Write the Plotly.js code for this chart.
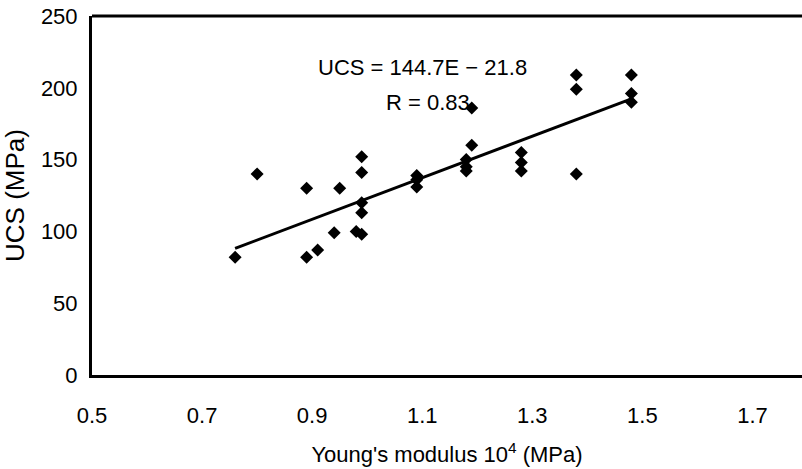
<!DOCTYPE html>
<html>
<head>
<meta charset="utf-8">
<script src="https://cdn.plot.ly/plotly-3.0.1.min.js"></script>
<style>html,body{margin:0;padding:0;background:#fff;}#chart{width:802px;height:469px;}</style>
</head>
<body>
<div id="chart"></div>
<script>
// Young's modulus (x 10^4 MPa) and UCS (MPa)
const modulusE = [0.76, 0.80, 0.89, 0.89, 0.91, 0.94, 0.95, 0.98, 0.99, 0.99, 0.99, 0.99, 0.99,
                  1.09, 1.09, 1.09, 1.18, 1.18, 1.18, 1.19, 1.19, 1.28, 1.28, 1.28,
                  1.38, 1.38, 1.38, 1.48, 1.48, 1.48];
const ucsValues = [82, 140, 130, 82, 87, 99, 130, 100, 152, 141, 120, 113, 98,
                   139, 136, 131, 150, 145, 142, 186, 160, 155, 148, 142,
                   209, 199, 140, 209, 196, 190];
// regression shown in the figure: UCS = 144.7E - 21.8
const fitSlope = 144.7;
const fitIntercept = -21.8;
const fitRange = [0.76, 1.48];
const xTicks = [0.5, 0.7, 0.9, 1.1, 1.3, 1.5, 1.7];
const xTickText = ["0.5", "0.7", "0.9", "1.1", "1.3", "1.5", "1.7"];
const yTicks = [0, 50, 100, 150, 200, 250];

const fitY = fitRange.map(e => fitSlope * e + fitIntercept);

const fontFam = "Liberation Sans, Arial, sans-serif";

const data = [
  {
    x: modulusE, y: ucsValues, type: 'scatter', mode: 'markers',
    marker: {symbol: 'diamond', size: 10, color: '#000'},
    hoverinfo: 'x+y'
  },
  {
    x: fitRange, y: fitY, type: 'scatter', mode: 'lines',
    line: {color: '#000', width: 3}
  }
];

const layout = {
  width: 802, height: 469,
  margin: {l: 92, r: 0, t: 16, b: 94},
  paper_bgcolor: '#fff', plot_bgcolor: '#fff',
  showlegend: false,
  font: {family: fontFam, size: 22, color: '#000'},
  xaxis: {
    range: [0.5, 1.79],
    tickvals: xTicks, ticktext: xTickText,
    showgrid: false, zeroline: false,
    showline: true, linewidth: 3, linecolor: '#000', mirror: false,
    ticks: 'outside', ticklen: 19, tickcolor: 'rgba(0,0,0,0)',
    tickfont: {family: fontFam, size: 22, color: '#000'},
    title: {text: "Young's modulus 10<sup>4</sup> (MPa)", font: {family: fontFam, size: 22, color: '#000'}, standoff: 20}
  },
  yaxis: {
    range: [0, 250],
    tickvals: yTicks,
    showgrid: false, zeroline: false,
    showline: true, linewidth: 3, linecolor: '#000', mirror: false,
    ticks: 'outside', ticklen: 7, tickcolor: 'rgba(0,0,0,0)',
    tickfont: {family: fontFam, size: 22, color: '#000'},
    title: {text: 'UCS (MPa)', font: {family: fontFam, size: 26, color: '#000'}, standoff: 10}
  },
  shapes: [
    {type: 'line', xref: 'paper', yref: 'paper', x0: 0, x1: 1, y0: 1, y1: 1,
     line: {color: '#000', width: 3}}
  ],
  annotations: [
    {x: 1.1, y: 214, xref: 'x', yref: 'y', text: 'UCS = 144.7E \u2212 21.8', showarrow: false,
     font: {family: fontFam, size: 22, color: '#000'}},
    {x: 1.11, y: 190, xref: 'x', yref: 'y', text: 'R = 0.83', showarrow: false,
     font: {family: fontFam, size: 22, color: '#000'}}
  ]
};

Plotly.newPlot('chart', data, layout, {displayModeBar: false, staticPlot: true});
</script>
</body>
</html>
